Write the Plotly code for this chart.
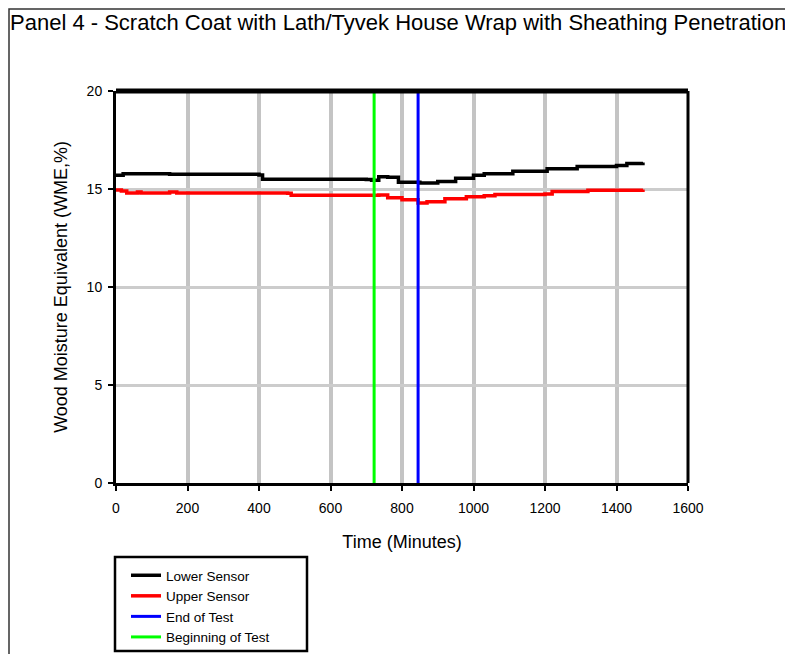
import plotly.graph_objects as go

# ---- data ----
lower_t = [0, 20, 150, 400, 410, 700, 715, 735, 760, 790, 850, 900, 950, 1000, 1030, 1110, 1206, 1290, 1400, 1429, 1474]
lower = [15.7, 15.78, 15.75, 15.72, 15.5, 15.48, 15.45, 15.62, 15.6, 15.35, 15.3, 15.38, 15.55, 15.7, 15.78, 15.9, 16.03, 16.15, 16.2, 16.3, 16.35]

upper_t = [0, 15, 30, 60, 70, 90, 150, 170, 200, 480, 490, 720, 735, 760, 800, 845, 870, 920, 980, 1030, 1060, 1200, 1220, 1320, 1474]
upper = [14.95, 14.9, 14.8, 14.85, 14.8, 14.8, 14.85, 14.8, 14.8, 14.78, 14.68, 14.68, 14.7, 14.55, 14.45, 14.28, 14.35, 14.5, 14.6, 14.65, 14.72, 14.75, 14.87, 14.93, 14.97]

end_of_test = 845
beginning_of_test = 722
y_range = [0, 20]
x_range = [0, 1600]
x_ticks = [0, 200, 400, 600, 800, 1000, 1200, 1400, 1600]
y_ticks = [0, 5, 10, 15, 20]

title = "Panel 4 - Scratch Coat with Lath/Tyvek House Wrap with Sheathing Penetration"

FONT = "Liberation Sans, Arial, sans-serif"

fig = go.Figure()
fig.add_trace(go.Scatter(x=lower_t, y=lower, mode="lines", name="Lower Sensor",
                         line=dict(color="black", width=3.5, shape="hv")))
fig.add_trace(go.Scatter(x=upper_t, y=upper, mode="lines", name="Upper Sensor",
                         line=dict(color="red", width=3.5, shape="hv")))
fig.add_trace(go.Scatter(x=[end_of_test, end_of_test], y=y_range, mode="lines", name="End of Test",
                         line=dict(color="#0000ff", width=3)))
fig.add_trace(go.Scatter(x=[beginning_of_test, beginning_of_test], y=y_range, mode="lines",
                         name="Beginning of Test", line=dict(color="#00ff00", width=3)))

# page is offset by the 8px default body margin
OFF = 8
PL, PR, PT, PB = 116, 688, 91, 483          # plot area in page pixels
W, H = PR - PL, PB - PT
L, T = PL - OFF, PT - OFF
R = 793 - L - W
B = 654 - T - H

def px(xp):
    return (xp - PL) / W

def py(yp):
    return (PB - yp) / H

fig.update_layout(
    width=793, height=654,
    margin=dict(l=L, r=R, t=T, b=B, autoexpand=False),
    paper_bgcolor="white", plot_bgcolor="white",
    font=dict(family=FONT, color="black"),
    showlegend=True,
    legend=dict(x=px(126), y=py(560), xanchor="left", yanchor="top",
                borderwidth=0, bgcolor="rgba(0,0,0,0)",
                font=dict(size=13.5, family=FONT), tracegroupgap=0, itemwidth=30),
    annotations=[dict(text=title, xref="paper", yref="paper", x=px(8), y=py(22),
                      xanchor="left", yanchor="middle", showarrow=False,
                      font=dict(size=22, family=FONT))],
    shapes=[
        # outer frame
        dict(type="rect", xref="paper", yref="paper", x0=px(OFF + 1), x1=px(820),
             y0=py(700), y1=py(OFF + 1),
             line=dict(color="#333333", width=1.5), fillcolor="rgba(0,0,0,0)", layer="below"),
        # legend box
        dict(type="rect", xref="paper", yref="paper", x0=px(115), x1=px(307),
             y0=py(651), y1=py(557),
             line=dict(color="black", width=2.5), fillcolor="white", layer="below"),
        dict(type="line", xref="paper", yref="paper", x0=0, x1=1, y0=1, y1=1,
             line=dict(color="black", width=5)),
        dict(type="line", xref="paper", yref="paper", x0=1, x1=1, y0=0, y1=1,
             line=dict(color="black", width=3)),
    ],
)
fig.update_xaxes(range=x_range, tickvals=x_ticks, ticks="outside", ticklen=5, tickwidth=2,
                 tickcolor="black", showline=True, linecolor="black", linewidth=3,
                 showgrid=True, gridcolor="#c4c4c4", gridwidth=4, zeroline=False, automargin=False,
                 tickfont=dict(size=14), ticklabelstandoff=5,
                 title=dict(text="Time (Minutes)", font=dict(size=18), standoff=21))
fig.update_yaxes(range=y_range, tickvals=y_ticks, ticks="outside", ticklen=5, tickwidth=2,
                 tickcolor="black", showline=True, linecolor="black", linewidth=3,
                 showgrid=True, gridcolor="#cccccc", gridwidth=2.5, zeroline=False, automargin=False,
                 tickfont=dict(size=14), ticklabelstandoff=3,
                 title=dict(text="Wood Moisture Equivalent (WME,%)", font=dict(size=18), standoff=15))

fig.write_html("out.html")
